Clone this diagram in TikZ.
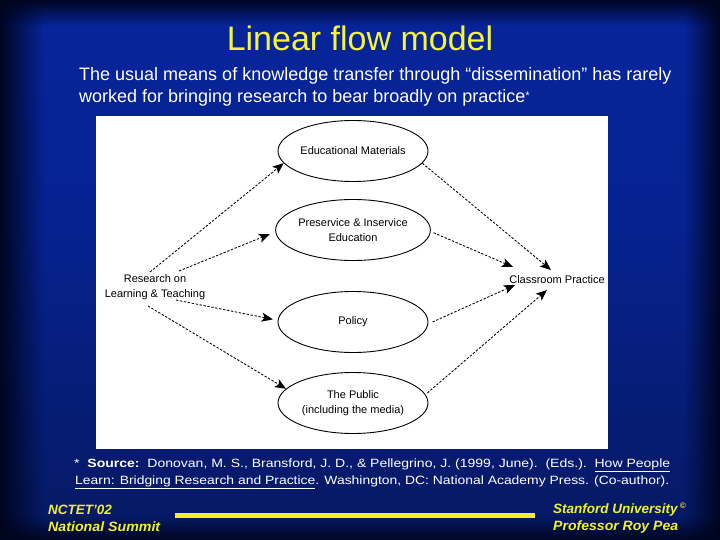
\documentclass[tikz,border=0pt]{standalone}
\usepackage{fontspec}
\setmainfont{Liberation Sans}
\usetikzlibrary{arrows.meta,shapes.geometric,fadings}
\definecolor{bgtop}{RGB}{8,40,168}
\definecolor{bgmid}{RGB}{6,34,145}
\definecolor{bgbot}{RGB}{6,20,72}
\definecolor{edge}{RGB}{0,4,28}
\definecolor{ttlyellow}{RGB}{245,245,60}
\definecolor{ftyellow}{RGB}{240,240,50}
\pgfdeclareverticalshading{bgv}{100bp}{color(0bp)=(bgbot); color(8bp)=(bgbot); color(55bp)=(bgmid); color(100bp)=(bgtop)}
\tikzfading[name=fadeL, left color=transparent!5, middle color=transparent!70, right color=transparent!100]
\tikzfading[name=fadeR, right color=transparent!5, middle color=transparent!70, left color=transparent!100]
\tikzfading[name=fadeT, top color=transparent!5, middle color=transparent!70, bottom color=transparent!100]
\tikzfading[name=fadeB, bottom color=transparent!10, middle color=transparent!75, top color=transparent!100]
\tikzset{
  oval/.style={ellipse, draw=black, line width=0.9pt, fill=white, minimum width=150pt, minimum height=61pt, inner sep=0pt, align=center, font=\fontsize{11}{14.5}\selectfont},
  lbl/.style={align=center, font=\fontsize{11}{15}\selectfont, inner sep=1pt},
  flow/.style={draw=black, line width=0.85pt, dash pattern=on 2.4pt off 1.6pt, -{Stealth[length=11pt,width=9pt,inset=2.5pt]}},
  foot/.style={text=ftyellow, font=\fontsize{13.5}{16}\selectfont\bfseries\itshape, inner sep=0pt},
  sub/.style={text=white, font=\fontsize{18}{21}\selectfont, inner sep=0pt, anchor=base west}
}
\begin{document}
\begin{tikzpicture}[x=1pt,y=-1pt]
\useasboundingbox (0,0) rectangle (720,540);
% background
\shade[shading=bgv] (0,0) rectangle (720,540);
\begin{scope}[y=1pt]
  \fill[edge, path fading=fadeL] (0,-540) rectangle (44,0);
  \fill[edge, path fading=fadeR] (684,-540) rectangle (720,0);
  \fill[edge, path fading=fadeT] (0,-26) rectangle (720,0);
  \fill[edge, path fading=fadeB] (0,-540) rectangle (720,-516);
\end{scope}
% title
\node[text=ttlyellow, font=\fontsize{34}{40}\selectfont, inner sep=0pt] (title) at (360,38) {Linear flow model};
\node[sub] (sub1) at (79,81) {The usual means of knowledge transfer through “dissemination” has rarely};
\node[sub] (sub2) at (79,103) {worked for bringing research to bear broadly on practice{\fontsize{11}{12}\selectfont\raisebox{0.6ex}{*}}};
% panel
\fill[white] (96,116) rectangle (608,449);
% nodes
\node[oval] (em) at (353,151) {Educational Materials};
\node[oval] (pres) at (353,230) {Preservice \& Inservice\\Education};
\node[oval] (pol) at (353,322) {Policy};
\node[oval] (pub) at (353,403) {The Public\\(including the media)};
\node[lbl] (res) at (155,287) {Research on\\Learning \& Teaching};
\node[lbl] (cp) at (557,280) {Classroom Practice};
% connector end points
\coordinate (r1) at (150,272);
\coordinate (r2) at (179,271);
\coordinate (r3) at (176,300);
\coordinate (r4) at (148,306);
\coordinate (c1) at (551,270);
\coordinate (c2) at (513,267);
\coordinate (c3) at (515,285);
\coordinate (c4) at (547,290);
% connectors
\draw[flow] (r1) -- (em.190);
\draw[flow] (r2) -- ([xshift=-6pt]pres.183);
\draw[flow] (r3) -- ([xshift=-5pt]pol.178);
\draw[flow] (r4) -- (pub.168);
\draw[flow] (em.350) -- (c1);
\draw[flow] ([xshift=3pt]pres.358) -- (c2);
\draw[flow] ([xshift=4pt]pol.0) -- (c3);
\draw[flow] ([xshift=3pt]pub.8) -- (c4);
% footnote
\node[text=white, inner sep=0pt, anchor=base west] (fn1) at (74,467) {\resizebox{596pt}{\height}{\fontsize{12}{14}\selectfont *\ \ \textbf{Source:}\ \ Donovan, M. S., Bransford, J. D., \& Pellegrino, J. (1999, June).\ \ (Eds.).\ \ \underline{How People}}};
\node[text=white, inner sep=0pt, anchor=base west] (fn2) at (75,484) {\resizebox{594pt}{\height}{\fontsize{12}{14}\selectfont \underline{Learn: Bridging Research and Practice}. Washington, DC: National Academy Press. (Co-author).}};
% footer
\node[foot, anchor=base west] (n1) at (48,514) {NCTET’02};
\node[foot, anchor=base west] (n2) at (48,531) {\resizebox{112pt}{\height}{National Summit}};
\node[foot, anchor=base west] (s1) at (553,513) {Stanford University\,\raisebox{0.6ex}{\fontsize{8}{9}\selectfont ©}};
\node[foot, anchor=base west] (s2) at (553,530) {\resizebox{125pt}{\height}{Professor Roy Pea}};
\draw[ftyellow, line width=5pt] (175,515) -- (535,515);
\end{tikzpicture}
\end{document}
